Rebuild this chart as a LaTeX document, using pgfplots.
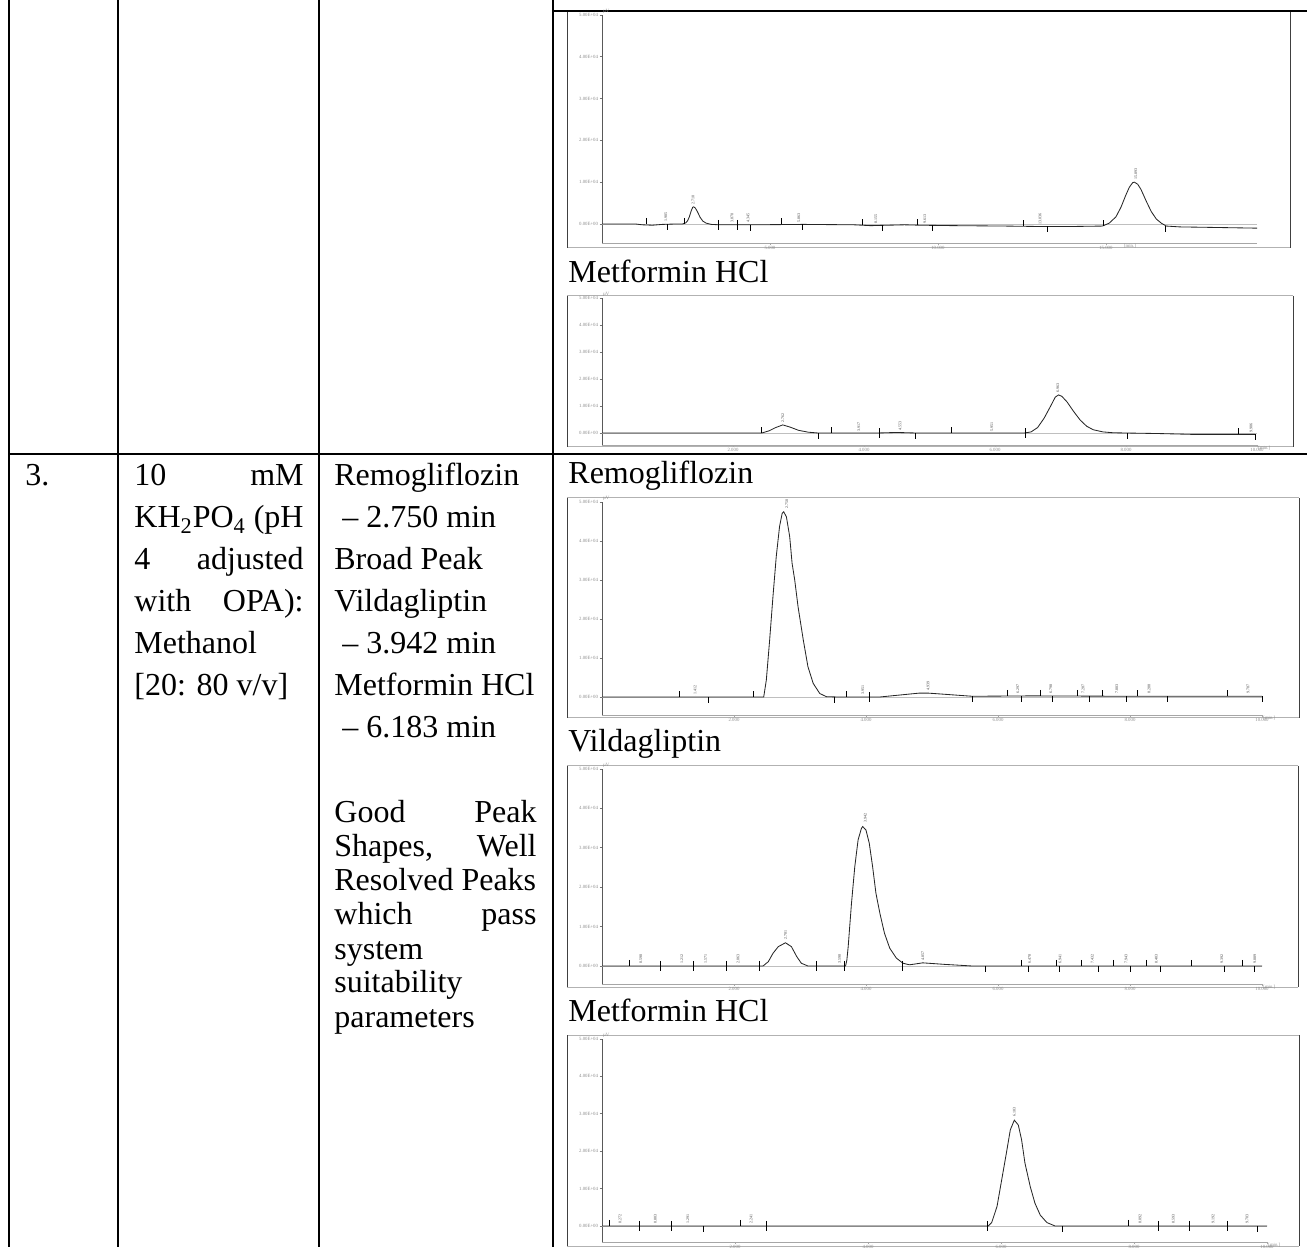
\documentclass[border=0pt]{standalone}
\usepackage{pgfplots}
\pgfplotsset{compat=1.18}
\usepackage{fontspec}
\setmainfont{Liberation Serif}
\newcommand{\tinyf}{\fontsize{2.4}{2.4}\selectfont}
\newcommand{\labf}{\fontsize{2}{2}\selectfont}
\pgfplotsset{
  chrom/.style={
    scale only axis, anchor=south west, clip=false,
    axis lines=left,
    x axis line style={-, draw=black!35, line width=0.35pt},
    y axis line style={-, draw=black!65, line width=0.45pt},
    tick align=outside, major tick length=1.2pt,
    xtick style={draw=black!35, line width=0.3pt},
    ytick style={draw=black!55, line width=0.3pt},
    ytick={0,1,2,3,4,5},
    yticklabels={0.00E+00,1.00E+04,2.00E+04,3.00E+04,4.00E+04,5.00E+04},
    ymax=5,
    tick label style={font=\tinyf, text=black!45},
    yticklabel style={inner sep=0.6pt},
    xticklabel style={inner sep=0.5pt},
  },
  trace/.style={black!85, line width=0.42pt, mark=none},
  base/.style={black!25, line width=0.35pt, mark=none},
  upm/.style={only marks, mark=|, mark size=1.5pt, mark options={black, line width=0.45pt, yshift=1.5pt}},
  dnm/.style={only marks, mark=|, mark size=1.5pt, mark options={black, line width=0.45pt, yshift=-1.5pt}},
  tlm/.style={only marks, mark=|, mark size=2.5pt, mark options={black, line width=0.45pt}},
  plab/.style={only marks, mark=*, mark size=0pt, mark options={draw=none, fill=none},
    nodes near coords, point meta=explicit symbolic,
    every node near coord/.append style={rotate=90, anchor=west, inner sep=0.2pt, font=\labf, text=black!75}},
}
\newcommand{\frm}[4]{%
  \draw[black!30, line width=0.5pt] (#1,#2) -- (#3,#2);
  \draw[black!30, line width=0.5pt] (#1,#4) -- (#3,#4);
  \draw[black!75, line width=0.5pt] (#1,#2) -- (#1,#4);
  \draw[black!75, line width=0.5pt] (#3,#2) -- (#3,#4);}
\begin{document}
\fontsize{16}{19}\selectfont
\begin{tikzpicture}
\begin{scope}[x=0.5pt,y=-0.5pt]
\useasboundingbox (0,0) rectangle (1307,1247);
% chromatogram frames
\frm{567}{11}{1290}{248}
\frm{567}{296}{1293}{447}
\frm{567}{498}{1299}{718}
\frm{567}{766}{1298}{987}
\frm{567}{1035}{1299}{1246}
% table lines
\draw[line width=1pt] (9,0) -- (9,1247);
\draw[line width=1pt] (118,0) -- (118,1247);
\draw[line width=1pt] (319,0) -- (319,1247);
\draw[line width=1pt] (553,0) -- (553,1247);
\draw[line width=1pt] (553,11) -- (1307,11);
\draw[line width=1pt] (9,454) -- (1307,454);
% column 1
\node[anchor=base west, inner sep=0] at (25,486) {3.};
% column 2
\node[anchor=base west, inner sep=0] at (134,486) {10};
\node[anchor=base east, inner sep=0] at (304,486) {mM};
\node[anchor=base west, inner sep=0] at (134,528) {KH\textsubscript{2}PO\textsubscript{4}};
\node[anchor=base east, inner sep=0] at (304,528) {(pH};
\node[anchor=base west, inner sep=0] at (134,570) {4};
\node[anchor=base east, inner sep=0] at (304,570) {adjusted};
\node[anchor=base west, inner sep=0] at (134,612) {with};
\node[anchor=base east, inner sep=0] at (304,612) {OPA):};
\node[anchor=base west, inner sep=0] at (134,654) {Methanol};
\node[anchor=base west, inner sep=0] at (134,696) {[20: 80 v/v]};
% column 3
\node[anchor=base west, inner sep=0] at (334,486) {Remogliflozin};
\node[anchor=base west, inner sep=0] at (342,528) {– 2.750 min};
\node[anchor=base west, inner sep=0] at (334,570) {Broad Peak};
\node[anchor=base west, inner sep=0] at (334,612) {Vildagliptin};
\node[anchor=base west, inner sep=0] at (342,654) {– 3.942 min};
\node[anchor=base west, inner sep=0] at (334,696) {Metformin HCl};
\node[anchor=base west, inner sep=0] at (342,738) {– 6.183 min};
\node[anchor=base west, inner sep=0] at (334,823) {Good};
\node[anchor=base east, inner sep=0] at (537,823) {Peak};
\node[anchor=base west, inner sep=0] at (334,857) {Shapes,};
\node[anchor=base east, inner sep=0] at (537,857) {Well};
\node[anchor=base west, inner sep=0] at (334,891) {Resolved Peaks};
\node[anchor=base west, inner sep=0] at (334,925) {which};
\node[anchor=base east, inner sep=0] at (537,925) {pass};
\node[anchor=base west, inner sep=0] at (334,959) {system};
\node[anchor=base west, inner sep=0] at (334,993) {suitability};
\node[anchor=base west, inner sep=0] at (334,1027) {parameters};
% column 4 labels
\node[anchor=base west, inner sep=0] at (568,283) {Metformin HCl};
\node[anchor=base west, inner sep=0] at (568,484) {Remogliflozin};
\node[anchor=base west, inner sep=0] at (568,752) {Vildagliptin};
\node[anchor=base west, inner sep=0] at (568,1021) {Metformin HCl};
\end{scope}

% ---------- Chart 1 (row 2, top, cut) ----------
\begin{axis}[chrom, at={(301pt,-121.5pt)}, width=327.5pt, height=114pt,
  xmin=0, xmax=19.5, ymin=-0.455,
  xtick={5,10,15}, xticklabels={5.000,10.000,15.000}]
\addplot[base] coordinates {(0,0) (19.5,0)};
\addplot[trace] coordinates {(0,0) (1.0,0) (1.2,-0.02) (1.5,-0.03) (1.8,-0.01) (2.2,0) (2.40,0.0) (2.50,0.03) (2.55,0.08) (2.60,0.17) (2.65,0.30) (2.70,0.40) (2.73,0.41) (2.78,0.38) (2.85,0.28) (2.92,0.16) (3.00,0.07) (3.10,0.02) (3.25,-0.01) (3.5,-0.02) (4.5,-0.02) (6,-0.01) (7.5,-0.02) (8.0,-0.04) (9,-0.02) (9.5,-0.03) (10.5,-0.04) (12,-0.05) (13,-0.06) (14,-0.06) (14.9,-0.05) (15.1,0.02) (15.3,0.17) (15.45,0.40) (15.6,0.70) (15.7,0.88) (15.8,0.99) (15.85,1.0) (15.95,0.95) (16.05,0.82) (16.2,0.55) (16.35,0.30) (16.5,0.12) (16.65,0.02) (16.8,-0.05) (17.2,-0.07) (18,-0.08) (19.5,-0.1)};
\addplot[upm] coordinates {(1.31,0) (2.44,0) (5.33,-0.01) (7.74,-0.03) (9.38,-0.03) (12.56,-0.05) (14.94,-0.05)};
\addplot[dnm] coordinates {(1.96,0) (4.43,-0.02) (5.98,-0.01) (8.36,-0.03) (9.85,-0.03) (13.27,-0.06) (16.76,-0.05)};
\addplot[tlm] coordinates {(3.48,-0.02) (4.02,-0.02)};
\addplot[plab] coordinates {(1.90,0.04)[1.905] (2.71,0.45)[2.710] (3.87,0.02)[3.870] (4.35,0.02)[4.345] (5.86,0.02)[5.863] (8.15,0.0)[8.155] (9.61,0.0)[9.613] (13.04,-0.02)[13.036] (15.89,1.05)[15.893]};
\node[anchor=north west, font=\tinyf, text=black!45, inner sep=0.5pt] at (axis cs:15.5,-0.455) {[min.]};
\node[anchor=south west, font=\tinyf, text=black!45, inner sep=0.3pt] at (rel axis cs:0,1) {µV};
\end{axis}

% ---------- Chart 2 (row 2, Metformin HCl) ----------
\begin{axis}[chrom, at={(301pt,-222.5pt)}, width=327.5pt, height=73.5pt,
  xmin=0, xmax=10, ymin=-0.444,
  xtick={2,4,6,8,10}, xticklabels={2.000,4.000,6.000,8.000,10.000}]
\addplot[base] coordinates {(0,0) (10,0)};
\addplot[trace] coordinates {(0,0) (2.44,0) (2.55,0.08) (2.65,0.2) (2.76,0.3) (2.87,0.22) (3.0,0.1) (3.15,0.03) (3.3,0) (4.2,0) (4.5,0.02) (4.8,0) (6.45,0) (6.55,0.04) (6.65,0.2) (6.75,0.55) (6.85,1.0) (6.92,1.33) (6.97,1.41) (7.02,1.36) (7.1,1.15) (7.2,0.8) (7.3,0.48) (7.4,0.25) (7.5,0.12) (7.65,0.04) (7.8,0.01) (8.0,0) (8.5,-0.02) (9.0,-0.05) (9.97,-0.05)};
\addplot[upm] coordinates {(2.44,0) (3.51,0) (5.33,0) (9.71,-0.05)};
\addplot[dnm] coordinates {(3.30,0) (4.79,0) (8.02,0) (9.97,-0.05)};
\addplot[tlm] coordinates {(4.24,0) (6.46,0)};
\addplot[plab] coordinates {(2.76,0.36)[2.762] (3.92,0.04)[3.917] (4.55,0.06)[4.553] (5.95,0.04)[5.951] (6.96,1.48)[6.963] (9.91,-0.01)[9.906]};
\node[anchor=north west, font=\tinyf, text=black!45, inner sep=0.5pt] at (rel axis cs:1,0) {[min.]};
\node[anchor=south west, font=\tinyf, text=black!45, inner sep=0.3pt] at (rel axis cs:0,1) {µV};
\end{axis}

% ---------- Chart 3 (row 3, Remogliflozin) ----------
\begin{axis}[chrom, at={(301pt,-357.5pt)}, width=330pt, height=106.5pt,
  xmin=0, xmax=10, ymin=-0.46,
  xtick={2,4,6,8,10}, xticklabels={2.000,4.000,6.000,8.000,10.000}]
\addplot[base] coordinates {(0,0) (10,0)};
\addplot[trace] coordinates {(0,0) (2.45,0) (2.49,0.44) (2.54,1.46) (2.59,2.57) (2.64,3.6) (2.69,4.37) (2.73,4.71) (2.753,4.75) (2.794,4.62) (2.844,4.11) (2.88,3.43) (2.92,3.0) (2.97,2.32) (3.05,1.46) (3.12,0.78) (3.20,0.35) (3.30,0.09) (3.40,0.01) (3.6,0) (4.2,0) (4.5,0.05) (4.8,0.1) (4.95,0.1) (5.2,0.07) (5.61,0.02) (6.5,0.03) (8,0.02) (9.5,0.02) (10,0.02)};
\addplot[upm] coordinates {(1.18,0) (2.29,0) (3.70,0) (6.15,0.03) (6.64,0.03) (7.20,0.03) (7.59,0.02) (8.12,0.02) (9.47,0.02)};
\addplot[dnm] coordinates {(1.61,0) (3.52,0) (5.62,0.02) (6.36,0.03) (6.83,0.03) (7.39,0.03) (7.95,0.02) (8.56,0.02) (10.0,0.02)};
\addplot[tlm] coordinates {(4.05,0)};
\addplot[plab] coordinates {(1.41,0.04)[1.412] (2.80,4.82)[2.750] (3.95,0.04)[3.951] (4.94,0.15)[4.939] (6.30,0.07)[6.297] (6.80,0.07)[6.798] (7.29,0.07)[7.287] (7.80,0.06)[7.803] (8.29,0.06)[8.288] (9.79,0.06)[9.787]};
\node[anchor=north west, font=\tinyf, text=black!45, inner sep=0.5pt] at (rel axis cs:1,0) {[min.]};
\node[anchor=south west, font=\tinyf, text=black!45, inner sep=0.3pt] at (rel axis cs:0,1) {µV};
\end{axis}

% ---------- Chart 4 (row 3, Vildagliptin) ----------
\begin{axis}[chrom, at={(301pt,-492pt)}, width=330pt, height=107.5pt,
  xmin=0, xmax=10, ymin=-0.457,
  xtick={2,4,6,8,10}, xticklabels={2.000,4.000,6.000,8.000,10.000}]
\addplot[base] coordinates {(0,0) (10,0)};
\addplot[trace] coordinates {(0,0) (2.44,0) (2.52,0.11) (2.59,0.32) (2.67,0.49) (2.78,0.59) (2.87,0.49) (2.95,0.24) (3.02,0.07) (3.12,0) (3.69,0) (3.71,0.15) (3.73,0.49) (3.78,1.59) (3.83,2.52) (3.88,3.20) (3.93,3.49) (3.95,3.54) (4.00,3.45) (4.05,3.11) (4.10,2.52) (4.15,1.85) (4.21,1.34) (4.28,0.83) (4.36,0.45) (4.46,0.20) (4.56,0.07) (4.66,0.03) (4.86,0.08) (5.2,0.04) (5.61,0) (10,0)};
\addplot[upm] coordinates {(0.42,0) (6.35,0) (6.88,0) (7.26,0) (7.75,0) (8.25,0) (8.93,0) (9.70,0)};
\addplot[dnm] coordinates {(5.81,0) (6.46,0) (6.93,0) (7.52,0) (8.00,0) (8.46,0) (9.43,0) (9.89,0)};
\addplot[tlm] coordinates {(0.89,0) (1.39,0) (1.88,0) (2.38,0) (3.25,0) (3.68,0) (4.55,0)};
\addplot[plab] coordinates {(0.59,0.04)[0.590] (1.21,0.04)[1.212] (1.57,0.04)[1.571] (2.06,0.04)[2.063] (2.78,0.66)[2.781] (3.60,0.04)[3.598] (3.99,3.62)[3.942] (4.86,0.12)[4.857] (6.48,0.04)[6.478] (6.94,0.04)[6.941] (7.43,0.04)[7.432] (7.94,0.04)[7.943] (8.40,0.04)[8.403] (9.39,0.04)[9.392] (9.89,0.04)[9.889]};
\node[anchor=north west, font=\tinyf, text=black!45, inner sep=0.5pt] at (rel axis cs:1,0) {[min.]};
\node[anchor=south west, font=\tinyf, text=black!45, inner sep=0.3pt] at (rel axis cs:0,1) {µV};
\end{axis}

% ---------- Chart 5 (row 3, Metformin HCl) ----------
\begin{axis}[chrom, at={(301pt,-621pt)}, width=332.5pt, height=101.5pt,
  xmin=0, xmax=10, ymin=-0.43,
  xtick={2,4,6,8,10}, xticklabels={2.000,4.000,6.000,8.000,10.000}]
\addplot[base] coordinates {(0,0) (10,0)};
\addplot[trace] coordinates {(0,0) (5.81,0) (5.86,0.09) (5.94,0.52) (6.01,1.23) (6.08,1.94) (6.14,2.57) (6.20,2.83) (6.26,2.70) (6.31,2.30) (6.36,1.68) (6.44,1.05) (6.51,0.61) (6.59,0.29) (6.69,0.09) (6.81,0) (10,0)};
\addplot[upm] coordinates {(0.11,0) (2.08,0) (7.92,0)};
\addplot[dnm] coordinates {(1.53,0) (6.93,0) (9.86,0)};
\addplot[tlm] coordinates {(0.57,0) (1.04,0) (2.47,0) (5.80,0) (8.36,0) (8.83,0) (9.40,0)};
\addplot[plab] coordinates {(0.27,0.04)[0.272] (0.80,0.04)[0.803] (1.29,0.04)[1.291] (2.24,0.04)[2.241] (6.20,2.9)[6.183] (8.09,0.04)[8.092] (8.59,0.04)[8.593] (9.19,0.04)[9.192] (9.70,0.04)[9.703]};
\node[anchor=north west, font=\tinyf, text=black!45, inner sep=0.5pt] at (rel axis cs:1,0) {[min.]};
\node[anchor=south west, font=\tinyf, text=black!45, inner sep=0.3pt] at (rel axis cs:0,1) {µV};
\end{axis}
\end{tikzpicture}
\end{document}
